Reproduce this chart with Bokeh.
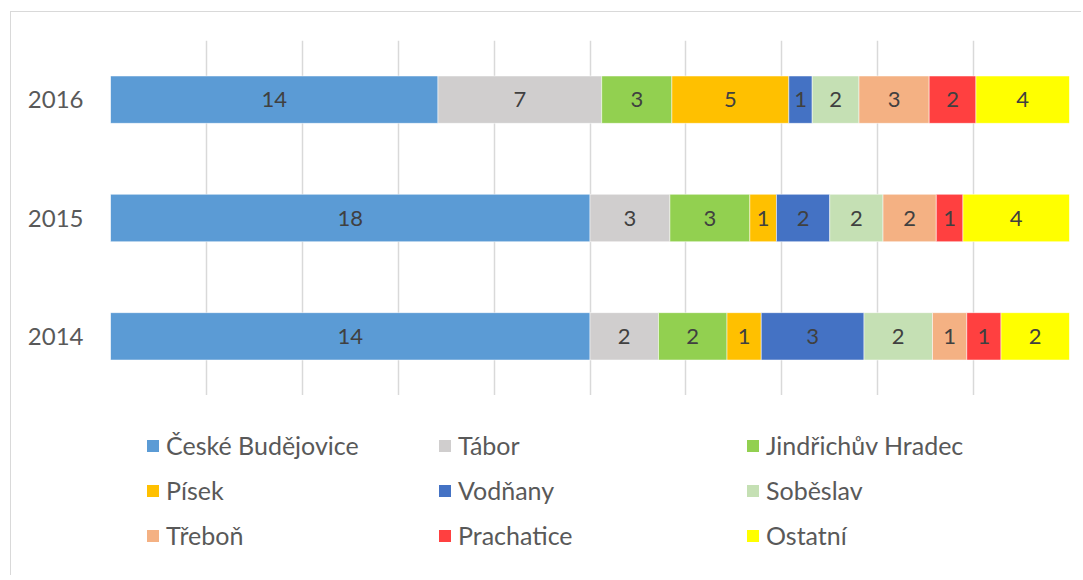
from bokeh.plotting import figure
from bokeh.models import Legend, LegendItem, FixedTicker, ColumnDataSource, Range1d
from bokeh.layouts import column
from bokeh.embed import file_html
from bokeh.resources import INLINE
from bokeh.core.properties import value
import numpy as np

years = ["2014", "2015", "2016"]
cities = ["České Budějovice", "Tábor", "Jindřichův Hradec", "Písek", "Vodňany",
          "Soběslav", "Třeboň", "Prachatice", "Ostatní"]
ceske_budejovice = [14, 18, 14]
tabor = [2, 3, 7]
jindrichuv_hradec = [2, 3, 3]
pisek = [1, 1, 5]
vodnany = [3, 2, 1]
sobeslav = [2, 2, 2]
trebon = [1, 2, 3]
prachatice = [1, 1, 2]
ostatni = [2, 4, 4]
series = [ceske_budejovice, tabor, jindrichuv_hradec, pisek, vodnany,
          sobeslav, trebon, prachatice, ostatni]
colors = ["#5B9BD5", "#D0CECE", "#92D050", "#FFC000", "#4472C4",
          "#C5E0B4", "#F4B183", "#FF4040", "#FFFF00"]

FONT = "Lato"

vals = np.array(series, dtype=float)          # (9 series, 3 years)
totals = vals.sum(axis=0)
frac = vals / totals
keys = [f"s{i}" for i in range(len(cities))]
data = {"year": years}
for k, f in zip(keys, frac):
    data[k] = list(f)
source = ColumnDataSource(data)

W = 1070
p = figure(width=W, height=383, y_range=years, x_range=Range1d(0, 1),
           output_backend="svg", toolbar_location=None,
           min_border_left=99, min_border_right=12, min_border_top=28,
           min_border_bottom=0)
p.outline_line_color = None
p.background_fill_color = "white"
p.border_fill_color = "white"

renderers = p.hbar_stack(keys, y="year", height=0.40, source=source,
                         color=colors, line_color="white", line_width=0.5)

# data labels
cum = np.cumsum(frac, axis=0)
starts = cum - frac
for i in range(len(cities)):
    centers = list((starts[i] + cum[i]) / 2)
    labels = [str(int(v)) for v in vals[i]]
    p.text(x=centers, y=years, text=labels, text_align="center",
           text_baseline="middle", text_font=value(FONT),
           text_font_size="22px", text_color="#404040")

p.xaxis.visible = False
p.xgrid.ticker = FixedTicker(ticks=[i / 10 for i in range(11)])
p.xgrid.grid_line_color = "#d9d9d9"
p.xgrid.grid_line_width = 1.5
p.ygrid.grid_line_color = None

ya = p.yaxis[0]
ya.axis_line_color = None
ya.major_tick_line_color = None
ya.minor_tick_line_color = None
ya.major_label_standoff = 21
ya.major_label_text_font = FONT
ya.major_label_text_font_size = "24px"
ya.major_label_text_color = "#595959"

# legend area (swatch renderers: zero-height bars outside the visible x range)
H2 = 180
p2 = figure(width=W, height=H2, x_range=Range1d(-3, -2), y_range=years,
            output_backend="svg", toolbar_location=None,
            min_border_left=99, min_border_right=12, min_border_top=0,
            min_border_bottom=0)
p2.axis.visible = False
p2.grid.visible = False
p2.outline_line_color = None
p2.background_fill_color = "white"
p2.border_fill_color = "white"

swatches = p2.hbar_stack(keys, y="year", height=0.0, source=source,
                         fill_color=colors, line_alpha=0)

col_x = [35, 327, 635]
for c in range(3):
    items = []
    for r in range(3):
        idx = r * 3 + c
        items.append(LegendItem(label=cities[idx], renderers=[swatches[idx]]))
    leg = Legend(items=items, location=(col_x[c], H2 - 155), orientation="vertical",
                 glyph_width=15, glyph_height=15, label_height=30, spacing=15,
                 label_standoff=6, padding=0, margin=0,
                 border_line_color=None, background_fill_alpha=0,
                 label_text_font=FONT, label_text_font_size="25px",
                 label_text_color="#595959")
    p2.add_layout(leg, "center")

layout = column(p, p2, spacing=0,
                styles={"margin-left": "10px", "margin-top": "11px",
                        "border-left": "1px solid #d9d9d9",
                        "border-top": "1px solid #d9d9d9"})

open("out.html", "w").write(file_html(layout, INLINE))
